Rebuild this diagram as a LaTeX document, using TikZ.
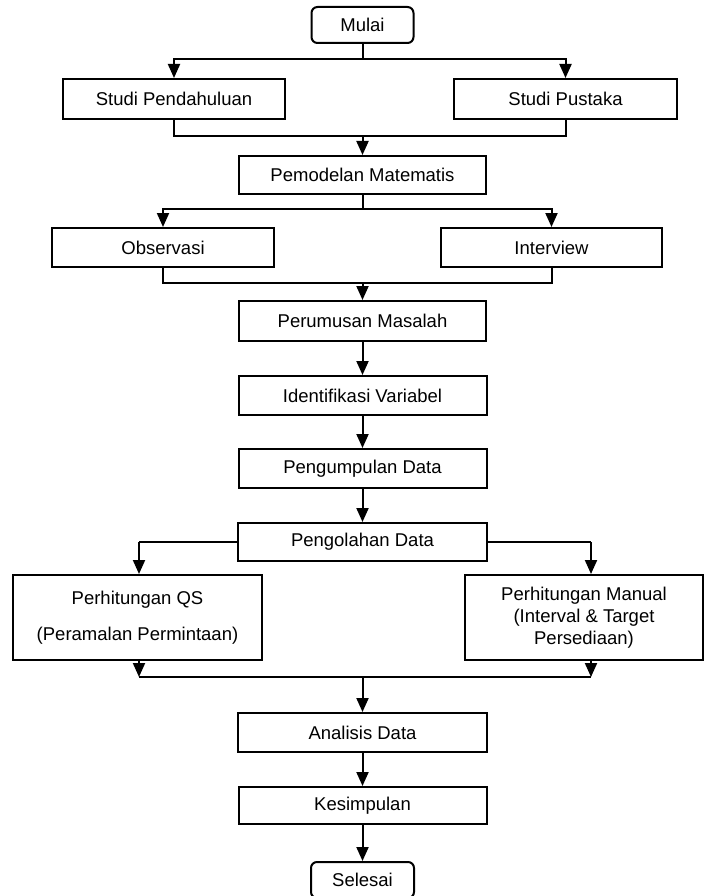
\documentclass[tikz,border=0pt]{standalone}
\usepackage{fontspec}
\setmainfont{Liberation Sans}
\usetikzlibrary{arrows.meta}
\begin{document}
\begin{tikzpicture}[x=1pt,y=-1pt,
  every node/.style={font=\fontsize{18.5}{22}\selectfont},
  box/.style={draw,line width=2pt,inner sep=0pt,align=center},
  term/.style={box,rounded corners=6pt},
  arr/.style={line width=2pt,-{Triangle[width=12pt,length=14pt]}},
  ln/.style={line width=2pt}]
\useasboundingbox (0,0) rectangle (704,896);
\fill[white] (0,0) rectangle (704,896);
% nodes
\node[term,minimum width=102pt,minimum height=36pt] (mulai) at (362.5,25) {Mulai};
\node[box,minimum width=222pt,minimum height=40pt] (sp) at (174,99) {Studi Pendahuluan};
\node[box,minimum width=223pt,minimum height=40pt] (spu) at (565.5,99) {Studi Pustaka};
\node[box,minimum width=247pt,minimum height=38pt] (pm) at (362.5,175) {Pemodelan Matematis};
\node[box,minimum width=222pt,minimum height=39pt] (obs) at (163,247.5) {Observasi};
\node[box,minimum width=221pt,minimum height=39pt] (int) at (551.5,247.5) {Interview};
\node[box,minimum width=247pt,minimum height=40pt] (pr) at (362.5,321) {Perumusan Masalah};
\node[box,minimum width=248pt,minimum height=39pt] (iv) at (362.5,395.5) {Identifikasi Variabel};
\node[box,minimum width=248pt,minimum height=39pt] (pd) at (362.5,468.5) {Pengumpulan Data};
\node[box,minimum width=249pt,minimum height=38pt] (po) at (362.5,542) {Pengolahan Data};
\node[box,minimum width=249pt,minimum height=85pt] (qs) at (137.5,617.5) {Perhitungan QS\\[14pt](Peramalan Permintaan)};
\node[box,minimum width=238pt,minimum height=85pt] (mn) at (584,617.5) {Perhitungan Manual\\(Interval \& Target\\Persediaan)};
\node[box,minimum width=249pt,minimum height=39pt] (ad) at (362.5,732.5) {Analisis Data};
\node[box,minimum width=248pt,minimum height=37pt] (ks) at (362.5,805.5) {Kesimpulan};
\node[term,minimum width=103pt,minimum height=36pt] (sl) at (362.5,880) {Selesai};
% junction points
\coordinate (s1) at (362.5,59);
\coordinate (j1) at (362.5,136);
\coordinate (s2) at (362.5,209);
\coordinate (j2) at (362.5,283);
\coordinate (j3) at (362.5,677);
\coordinate (ql) at (139,540);
\coordinate (mr) at (591,540);
% connectors
\draw[ln] (mulai.south) -- (s1);
\draw[arr] (s1) -| (sp.north);
\draw[arr] (s1) -| (spu.north);
\draw[ln] (sp.south) |- (j1) -| (spu.south);
\draw[arr] (j1) -- (pm.north);
\draw[ln] (pm.south) -- (s2);
\draw[arr] (s2) -| (obs.north);
\draw[arr] (s2) -| (int.north);
\draw[ln] (obs.south) |- (j2) -| (int.south);
\draw[arr] (j2) -- (pr.north);
\draw[arr] (pr.south) -- (iv.north);
\draw[arr] (iv.south) -- (pd.north);
\draw[arr] (pd.south) -- (po.north);
\draw[ln] (po.west) -- (po.west -| ql);
\draw[arr] (po.west -| ql) -- (ql |- qs.north);
\draw[ln] (po.east) -- (po.east -| mr);
\draw[arr] (po.east -| mr) -- (mr |- mn.north);
\draw[arr] (ql |- qs.south) -- (ql |- j3);
\draw[arr] (mr |- mn.south) -- (mr |- j3);
\draw[ln] (ql |- j3) -- (mr |- j3);
\draw[arr] (j3) -- (ad.north);
\draw[arr] (ad.south) -- (ks.north);
\draw[arr] (ks.south) -- (sl.north);
\end{tikzpicture}
\end{document}
